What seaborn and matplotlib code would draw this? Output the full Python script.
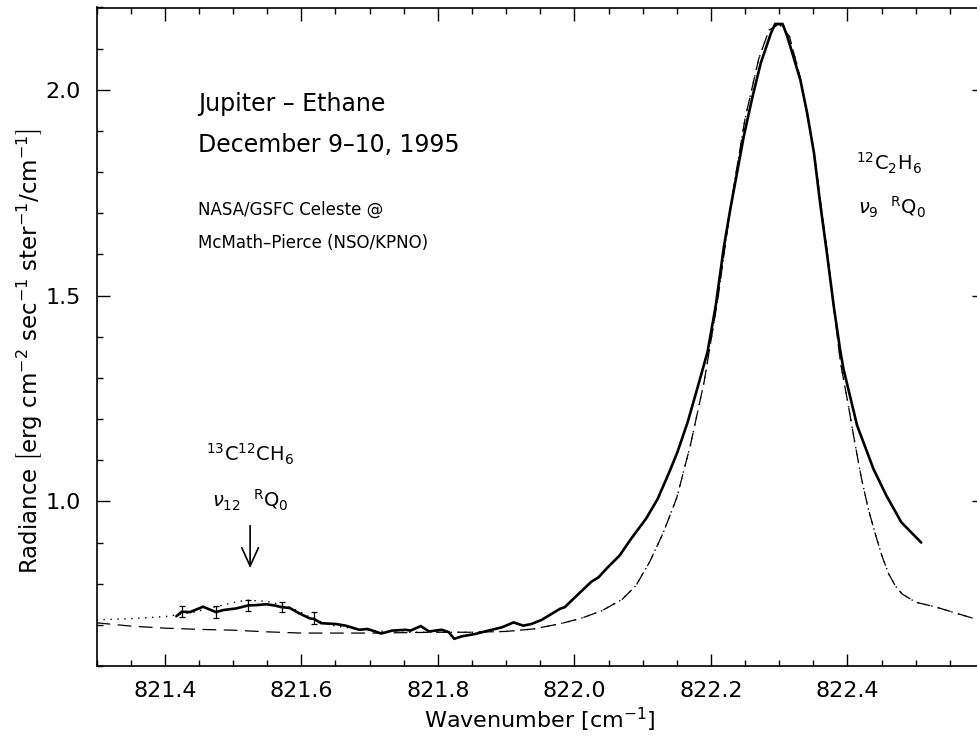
import numpy as np
import pandas as pd
import matplotlib
matplotlib.use("Agg")
import matplotlib.pyplot as plt
import seaborn as sns
from matplotlib.ticker import MultipleLocator

# ---------------- data ----------------
obs_x = [821.417, 821.425, 821.437, 821.456, 821.475, 821.486, 821.505, 821.522,
         821.534, 821.549, 821.561, 821.571, 821.583, 821.597, 821.612, 821.619,
         821.629, 821.651, 821.665, 821.685, 821.697, 821.717, 821.733, 821.753,
         821.760, 821.775, 821.787, 821.806, 821.816, 821.824, 821.835, 821.855,
         821.874, 821.894, 821.911, 821.925, 821.937, 821.952, 821.967, 821.979,
         821.986, 822.006, 822.025, 822.035, 822.049, 822.066, 822.083, 822.105,
         822.122, 822.139, 822.151, 822.166, 822.180, 822.195, 822.207, 822.219,
         822.229, 822.239, 822.248, 822.261, 822.273, 822.288, 822.294, 822.305,
         822.312, 822.331, 822.341, 822.351, 822.360, 822.370, 822.380, 822.389,
         822.394, 822.414, 822.438, 822.457, 822.479, 822.508]
obs_y = [0.721, 0.732, 0.731, 0.744, 0.731, 0.736, 0.740, 0.747,
         0.748, 0.750, 0.747, 0.743, 0.741, 0.728, 0.716, 0.714,
         0.704, 0.702, 0.698, 0.688, 0.690, 0.679, 0.686, 0.688,
         0.686, 0.697, 0.684, 0.688, 0.682, 0.666, 0.672, 0.678,
         0.686, 0.694, 0.706, 0.698, 0.702, 0.712, 0.727, 0.739,
         0.743, 0.775, 0.805, 0.815, 0.840, 0.868, 0.909, 0.958,
         1.006, 1.071, 1.120, 1.193, 1.274, 1.363, 1.475, 1.619,
         1.716, 1.805, 1.886, 1.984, 2.065, 2.138, 2.160, 2.160,
         2.129, 2.024, 1.943, 1.846, 1.724, 1.602, 1.473, 1.371,
         1.323, 1.185, 1.079, 1.014, 0.949, 0.900]

# model without the 13C12CH6 line (dashed)
model_x = [821.30, 821.35, 821.40, 821.45, 821.50, 821.55, 821.60, 821.65, 821.70,
           821.75, 821.80, 821.85, 821.90, 821.94, 821.98, 822.01, 822.04, 822.07,
           822.09, 822.11, 822.13, 822.15, 822.17, 822.19, 822.21, 822.23, 822.25,
           822.27, 822.285, 822.30, 822.315, 822.33, 822.35, 822.37, 822.38, 822.39,
           822.40, 822.41, 822.42, 822.43, 822.44, 822.45, 822.46, 822.47, 822.48,
           822.50, 822.53, 822.56, 822.60]
model_y = [0.705, 0.697, 0.692, 0.689, 0.687, 0.683, 0.680, 0.680, 0.680,
           0.681, 0.682, 0.682, 0.684, 0.690, 0.703, 0.716, 0.734, 0.762,
           0.795, 0.852, 0.923, 1.009, 1.137, 1.290, 1.490, 1.730, 1.930,
           2.075, 2.145, 2.160, 2.130, 2.035, 1.860, 1.610, 1.470, 1.335,
           1.245, 1.150, 1.060, 0.985, 0.925, 0.870, 0.825, 0.795, 0.775,
           0.755, 0.743, 0.728, 0.708]

# model including the 13C12CH6 line (dotted), differs only at low wavenumber
iso_x = [821.30, 821.35, 821.40, 821.44, 821.47, 821.50, 821.52, 821.55,
         821.58, 821.60, 821.62, 821.65, 821.70, 821.75, 821.80]
iso_y = [0.712, 0.715, 0.720, 0.730, 0.742, 0.754, 0.760, 0.757,
         0.745, 0.730, 0.712, 0.697, 0.686, 0.682, 0.682]

# error bars on the observed spectrum
err_x = [821.425, 821.475, 821.522, 821.571, 821.619]
err_y = [0.732, 0.731, 0.747, 0.743, 0.716]
err_dy = [0.014, 0.014, 0.013, 0.013, 0.015]

x_ticks = [821.4, 821.6, 821.8, 822.0, 822.2, 822.4]
y_ticks = [1.0, 1.5, 2.0]
arrow_x, arrow_tail, arrow_tip = 821.525, 0.941, 0.838

# ---------------- figure ----------------
sns.set_theme(style="ticks")
plt.rcParams["font.family"] = ["DejaVu Sans"]
plt.rcParams["mathtext.fontset"] = "dejavusans"
plt.rcParams["text.color"] = "black"
plt.rcParams["axes.labelcolor"] = "black"

fig = plt.figure(figsize=(9.77, 7.41), dpi=100)
W, H = 977, 741
L, R, T, B = 96.5, 984, 7.5, 666
ax = fig.add_axes([L / W, (H - B) / H, (R - L) / W, (B - T) / H])

obs = pd.DataFrame({"x": obs_x, "y": obs_y})
mod = pd.DataFrame({"x": model_x, "y": model_y})
iso_full_x = iso_x + [v for v in model_x if v > iso_x[-1]]
iso_full_y = iso_y + [y for v, y in zip(model_x, model_y) if v > iso_x[-1]]
iso = pd.DataFrame({"x": iso_full_x, "y": iso_full_y})

sns.lineplot(data=mod, x="x", y="y", ax=ax, color="black", lw=0.9,
             sort=False, estimator=None)
ax.lines[-1].set_dashes((11, 6))
sns.lineplot(data=iso, x="x", y="y", ax=ax, color="black", lw=1.0,
             sort=False, estimator=None)
ax.lines[-1].set_dashes((1, 4))
sns.lineplot(data=obs, x="x", y="y", ax=ax, color="black", lw=1.9,
             sort=False, estimator=None)
ax.errorbar(err_x, err_y, yerr=err_dy, fmt="none", ecolor="black",
            elinewidth=0.9, capsize=2, capthick=0.9)

ax.annotate("", xy=(arrow_x, arrow_tip), xytext=(arrow_x, arrow_tail),
            arrowprops=dict(arrowstyle="->,head_width=0.5,head_length=1.1",
                            lw=1.2, color="black", shrinkA=0, shrinkB=0))

ax.set_xlim(821.3, 822.6)
ax.set_ylim(0.6, 2.2)
ax.set_xticks(x_ticks)
ax.set_xticklabels([f"{v:.1f}" for v in x_ticks])
ax.set_yticks(y_ticks)
ax.set_yticklabels([f"{v:.1f}" for v in y_ticks])
ax.xaxis.set_minor_locator(MultipleLocator(0.05))
ax.yaxis.set_minor_locator(MultipleLocator(0.1))
ax.tick_params(which="both", direction="in", top=True, right=True,
               color="black", width=1.0, labelsize=16, labelcolor="black")
ax.tick_params(which="major", length=9, pad=11)
ax.tick_params(which="minor", length=4.5)
for s in ax.spines.values():
    s.set_linewidth(1.2)
    s.set_color("black")

ax.set_xlabel(r"Wavenumber $\left[\mathrm{cm^{-1}}\right]$", fontsize=16,
              labelpad=3, color="black")
ax.set_ylabel(r"Radiance $\left[\mathrm{erg\ cm^{-2}\ sec^{-1}\ ster^{-1}/cm^{-1}}\right]$",
              fontsize=16.5, color="black")
ax.yaxis.set_label_coords(-0.058, 0.478)

tk = dict(transform=ax.transAxes, ha="left", va="center", color="black")
ax.text(0.1144, 0.8535, "Jupiter – Ethane", fontsize=17, **tk)
ax.text(0.1144, 0.791, "December 9–10, 1995", fontsize=17, **tk)
ax.text(0.1144, 0.6925, "NASA/GSFC Celeste @", fontsize=12, **tk)
ax.text(0.1144, 0.6424, "McMath–Pierce (NSO/KPNO)", fontsize=12, **tk)

ax.text(arrow_x, 1.113, r"$^{13}$C$^{12}$CH$_6$", fontsize=14, ha="center", va="center")
ax.text(arrow_x, 1.003, r"$\nu_{12}$  $^{\mathrm{R}}$Q$_0$", fontsize=14, ha="center", va="center")
ax.text(822.46, 1.82, r"$^{12}$C$_2$H$_6$", fontsize=14, ha="center", va="center")
ax.text(822.465, 1.715, r"$\nu_{9}$  $^{\mathrm{R}}$Q$_0$", fontsize=14, ha="center", va="center")

fig.savefig("out.png", dpi=100)
